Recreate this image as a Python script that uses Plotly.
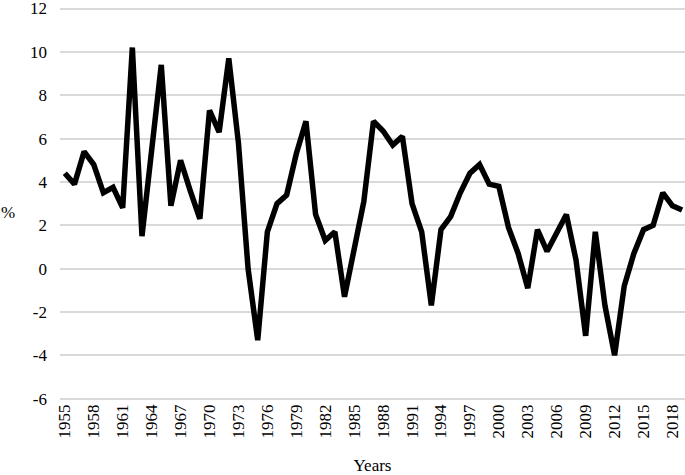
import plotly.graph_objects as go

# ── Data ──────────────────────────────────────────────────────────────────────
years = list(range(1955, 2020))
growth = [
    4.4, 3.9, 5.4, 4.8, 3.5, 3.75, 2.8, 10.2, 1.5, 5.5,
    9.4, 2.9, 5.0, 3.6, 2.3, 7.3, 6.3, 9.7, 5.8, 0.0,
    -3.3, 1.7, 3.0, 3.4, 5.3, 6.8, 2.5, 1.3, 1.7, -1.3,
    0.9, 3.1, 6.8, 6.35, 5.7, 6.1, 3.0, 1.7, -1.7, 1.8,
    2.4, 3.5, 4.4, 4.8, 3.9, 3.8, 1.9, 0.7, -0.9, 1.8,
    0.8, 1.6, 2.5, 0.4, -3.1, 1.7, -1.7, -4.0, -0.8, 0.7,
    1.8, 2.0, 3.5, 2.9, 2.7,
]
tick_years = list(range(1955, 2020, 3))
y_ticks = list(range(-6, 13, 2))
y_labels = [str(v) for v in y_ticks]  # plain hyphen minus like the original

font = "Liberation Serif"

fig = go.Figure()
fig.add_trace(go.Scatter(
    x=years, y=growth, mode="lines",
    line=dict(color="black", width=5.5),
    showlegend=False,
))

fig.update_layout(
    width=685, height=475,
    margin=dict(l=60, r=0, t=7, b=75),
    plot_bgcolor="white", paper_bgcolor="white",
    font=dict(family=font, size=17, color="black"),
)
fig.update_xaxes(
    range=[1954.5, 2019.3], automargin=False,
    tickvals=tick_years, ticktext=[str(y) for y in tick_years],
    tickangle=-90, showgrid=False, zeroline=False, showline=False,
    ticks="", tickfont=dict(family=font, size=17), ticklabeloverflow="allow",
    title=dict(text="Years", font=dict(family=font, size=17), standoff=22),
)
fig.update_yaxes(
    range=[-6.06, 12.07], automargin=False,
    tickvals=y_ticks, ticktext=y_labels,
    showgrid=True, gridcolor="#d9d9d9", gridwidth=1.5,
    zeroline=False, showline=False, ticks="",
    tickfont=dict(family=font, size=17), ticklabelstandoff=12,
    ticklabeloverflow="allow",
)
fig.add_annotation(
    text="%", x=0, y=2.6, xref="paper", yref="y",
    xanchor="left", yanchor="middle", showarrow=False,
    font=dict(family=font, size=17), xshift=-61,
)

# drop the default 8px body margin so the figure sits at the window corner
fig.write_html(
    "out.html",
    config={"displayModeBar": False},
    post_script="document.body.style.margin='0';",
)
